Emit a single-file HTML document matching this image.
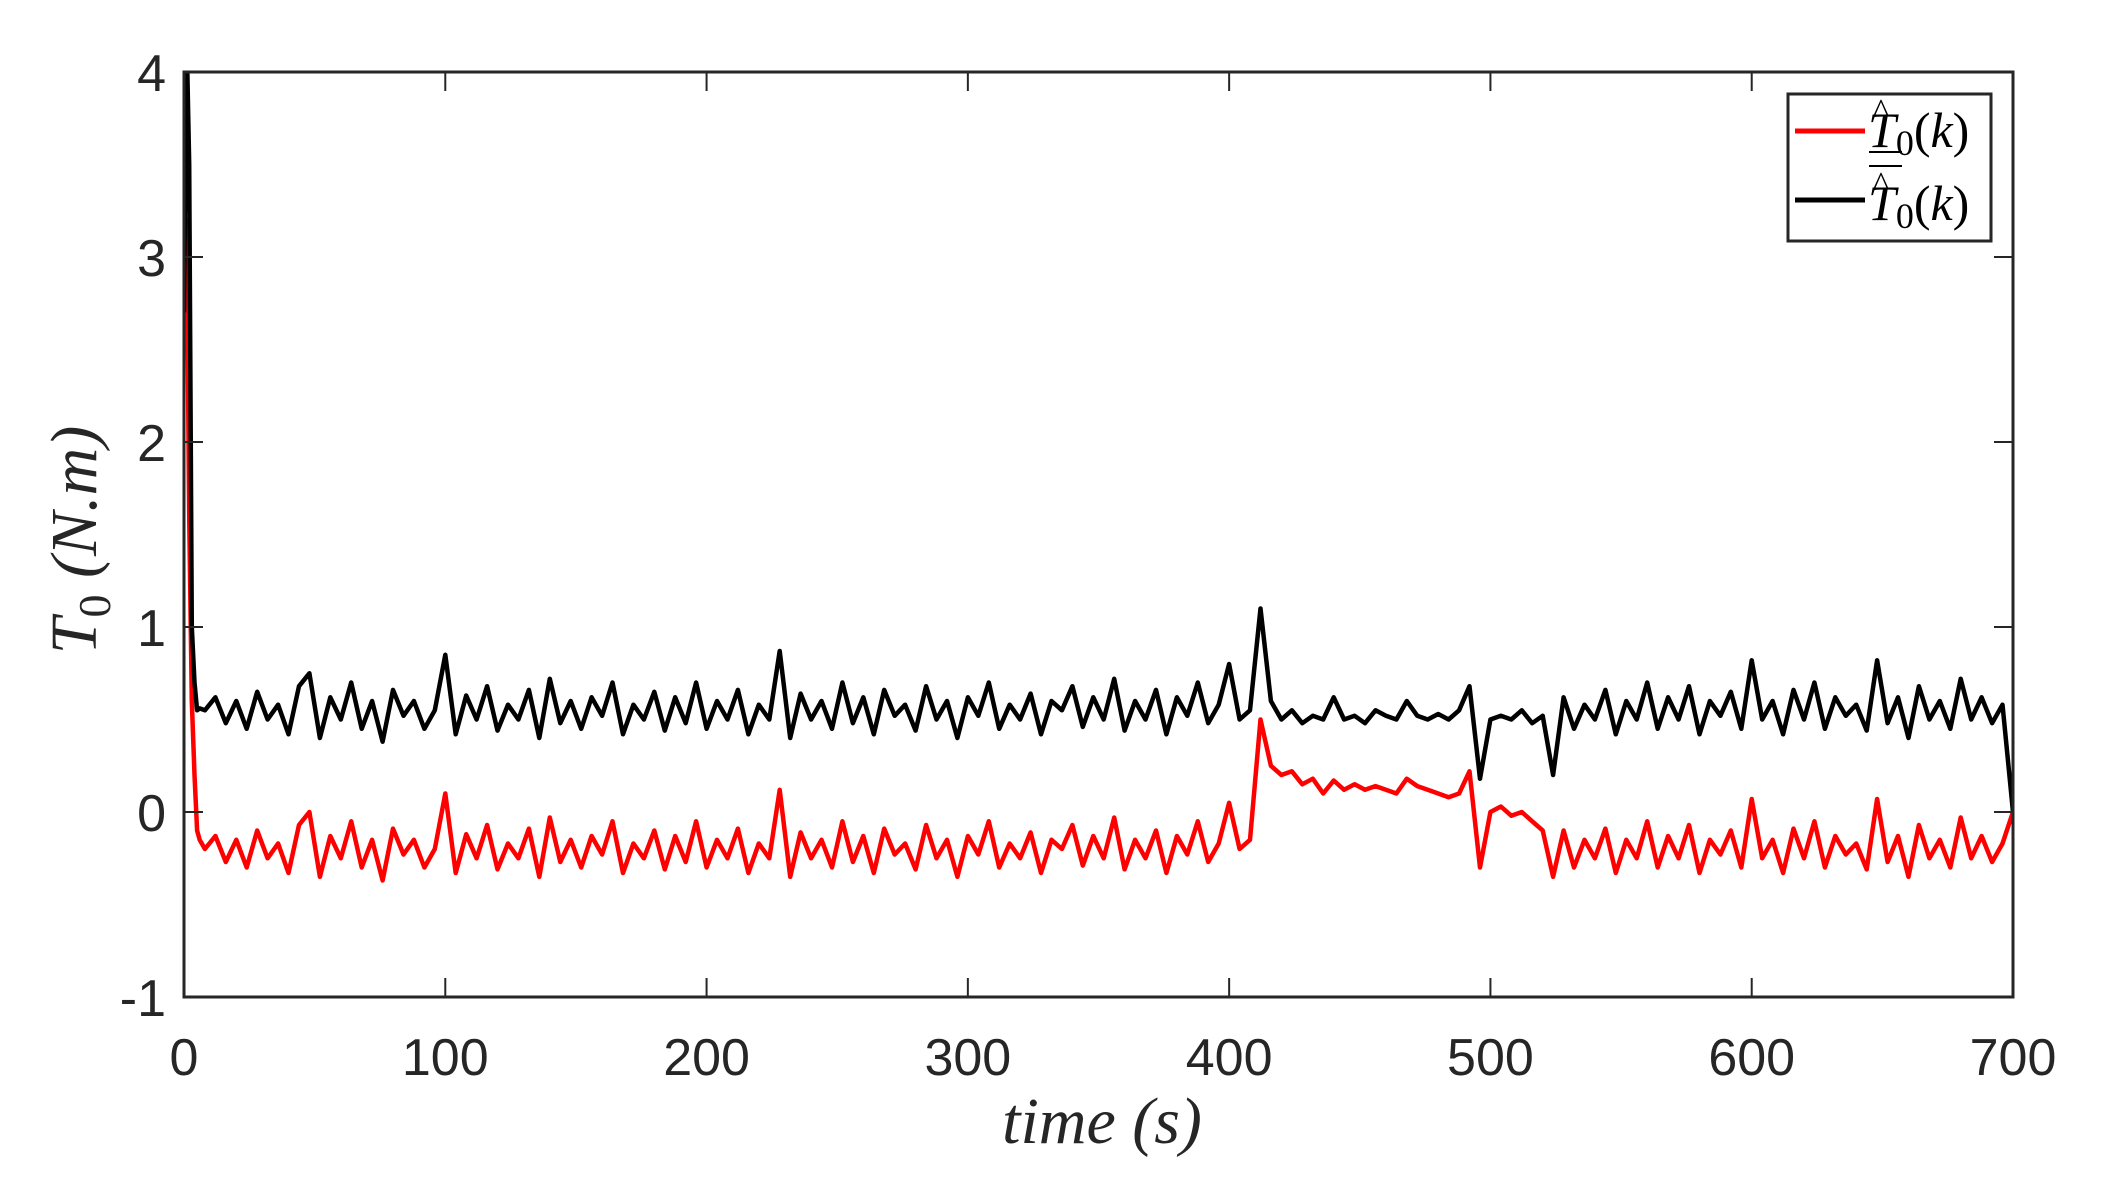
<!DOCTYPE html>
<html><head><meta charset="utf-8"><style>
html,body{margin:0;padding:0;background:#fff;}
svg{display:block;}
</style></head><body>
<svg id="chart" width="2102" height="1178" xmlns="http://www.w3.org/2000/svg">
<defs><clipPath id="plotclip"><rect x="184" y="72" width="1829" height="925"/></clipPath></defs>
<rect x="0" y="0" width="2102" height="1178" fill="#fff"/>
<g id="series" clip-path="url(#plotclip)"></g>
<g id="axes"></g>
<text x="1102" y="1143" text-anchor="middle" font-family="Liberation Serif, serif" font-style="italic" font-size="66" fill="#262626">time (s)</text>
<text transform="translate(96,540) rotate(-90)" text-anchor="middle" font-family="Liberation Serif, serif" font-style="italic" font-size="66" fill="#262626">T<tspan font-style="normal" font-size="46" dy="14">0</tspan><tspan dy="-14"> (N.m)</tspan></text>
<g>
<rect x="1788" y="94" width="203" height="147" fill="#fff" stroke="#262626" stroke-width="3"/>
<line x1="1795" y1="131" x2="1865" y2="131" stroke="#ff0000" stroke-width="5"/>
<text x="1868" y="147" font-family="Liberation Serif, serif" font-style="italic" font-size="50" fill="#000">T<tspan font-style="normal" font-size="36" dy="8">0</tspan><tspan font-style="normal" dy="-8">(</tspan>k<tspan font-style="normal">)</tspan></text>
<text x="1873" y="122" font-family="Liberation Serif, serif" font-size="34" fill="#000">^</text>
<line x1="1869" y1="152" x2="1902" y2="152" stroke="#000" stroke-width="2"/>
<line x1="1795" y1="200" x2="1865" y2="200" stroke="#000" stroke-width="5"/>
<text x="1868" y="220" font-family="Liberation Serif, serif" font-style="italic" font-size="50" fill="#000">T<tspan font-style="normal" font-size="36" dy="8">0</tspan><tspan font-style="normal" dy="-8">(</tspan>k<tspan font-style="normal">)</tspan></text>
<text x="1873" y="195" font-family="Liberation Serif, serif" font-size="34" fill="#000">^</text>
<line x1="1869" y1="166" x2="1902" y2="166" stroke="#000" stroke-width="2"/>
</g>
</svg>
<script>
const headTimes=[0,1,2,3,4,5,6];
const headBlack=[2.7,4.2,3.5,1.0,0.7,0.55,0.56];
const headRed=[2.7,3.2,1.6,0.6,0.2,-0.1,-0.15];
const stepStart=8, stepSize=4;
const blackVals=[0.55,0.62,0.48,0.6,0.45,0.65,0.5,0.58,0.42,0.68,
0.75,0.4,0.62,0.5,0.7,0.45,0.6,0.38,0.66,0.52,
0.6,0.45,0.55,0.85,0.42,0.63,0.5,0.68,0.44,0.58,
0.5,0.66,0.4,0.72,0.48,0.6,0.45,0.62,0.52,0.7,
0.42,0.58,0.5,0.65,0.44,0.62,0.48,0.7,0.45,0.6,
0.5,0.66,0.42,0.58,0.5,0.87,0.4,0.64,0.5,0.6,
0.45,0.7,0.48,0.62,0.42,0.66,0.52,0.58,0.44,0.68,
0.5,0.6,0.4,0.62,0.52,0.7,0.45,0.58,0.5,0.64,
0.42,0.6,0.55,0.68,0.46,0.62,0.5,0.72,0.44,0.6,
0.5,0.66,0.42,0.62,0.52,0.7,0.48,0.58,0.8,0.5,
0.55,1.1,0.6,0.5,0.55,0.48,0.52,0.5,0.62,0.5,
0.52,0.48,0.55,0.52,0.5,0.6,0.52,0.5,0.53,0.5,
0.55,0.68,0.18,0.5,0.52,0.5,0.55,0.48,0.52,0.2,
0.62,0.45,0.58,0.5,0.66,0.42,0.6,0.5,0.7,0.45,
0.62,0.5,0.68,0.42,0.6,0.52,0.65,0.45,0.82,0.5,
0.6,0.42,0.66,0.5,0.7,0.45,0.62,0.52,0.58,0.44,
0.82,0.48,0.62,0.4,0.68,0.5,0.6,0.45,0.72,0.5,
0.62,0.48,0.58];
const redVals=[-0.2,-0.13,-0.27,-0.15,-0.3,-0.1,-0.25,-0.17,-0.33,-0.07,
0.0,-0.35,-0.13,-0.25,-0.05,-0.3,-0.15,-0.37,-0.09,-0.23,
-0.15,-0.3,-0.2,0.1,-0.33,-0.12,-0.25,-0.07,-0.31,-0.17,
-0.25,-0.09,-0.35,-0.03,-0.27,-0.15,-0.3,-0.13,-0.23,-0.05,
-0.33,-0.17,-0.25,-0.1,-0.31,-0.13,-0.27,-0.05,-0.3,-0.15,
-0.25,-0.09,-0.33,-0.17,-0.25,0.12,-0.35,-0.11,-0.25,-0.15,
-0.3,-0.05,-0.27,-0.13,-0.33,-0.09,-0.23,-0.17,-0.31,-0.07,
-0.25,-0.15,-0.35,-0.13,-0.23,-0.05,-0.3,-0.17,-0.25,-0.11,
-0.33,-0.15,-0.2,-0.07,-0.29,-0.13,-0.25,-0.03,-0.31,-0.15,
-0.25,-0.1,-0.33,-0.13,-0.23,-0.05,-0.27,-0.17,0.05,-0.2,
-0.15,0.5,0.25,0.2,0.22,0.15,0.18,0.1,0.17,0.12,
0.15,0.12,0.14,0.12,0.1,0.18,0.14,0.12,0.1,0.08,
0.1,0.22,-0.3,0.0,0.03,-0.02,0.0,-0.05,-0.1,-0.35,
-0.1,-0.3,-0.15,-0.25,-0.09,-0.33,-0.15,-0.25,-0.05,-0.3,
-0.13,-0.25,-0.07,-0.33,-0.15,-0.23,-0.1,-0.3,0.07,-0.25,
-0.15,-0.33,-0.09,-0.25,-0.05,-0.3,-0.13,-0.23,-0.17,-0.31,
0.07,-0.27,-0.13,-0.35,-0.07,-0.25,-0.15,-0.3,-0.03,-0.25,
-0.13,-0.27,-0.17];
const tailTime=700, tailBlack=0.0, tailRed=0.0;
const xTicks=[0,100,200,300,400,500,600,700];
const yTicks=[-1,0,1,2,3,4];

const X0=184,X1=2013,Y0=72,Y1=997;
const sx=v=>X0+(v-0)/(700-0)*(X1-X0);
const sy=v=>Y1-(v-(-1))/(4-(-1))*(Y1-Y0);
const NS='http://www.w3.org/2000/svg';
function mk(tag,attrs,parent){const e=document.createElementNS(NS,tag);for(const k in attrs)e.setAttribute(k,attrs[k]);parent.appendChild(e);return e;}

function buildPath(head,vals,tail){
  const pts=[];
  headTimes.forEach((t,i)=>pts.push([sx(t),sy(head[i])]));
  vals.forEach((v,i)=>pts.push([sx(stepStart+i*stepSize),sy(v)]));
  pts.push([sx(tailTime),sy(tail)]);
  return 'M'+pts.map(p=>p[0].toFixed(1)+','+p[1].toFixed(1)).join('L');
}
const series=document.getElementById('series');
const pr=mk('path',{d:buildPath(headRed,redVals,tailRed),fill:'none',stroke:'#ff0000','stroke-width':4.5,'stroke-linejoin':'round'},series);


const pb=mk('path',{d:buildPath(headBlack,blackVals,tailBlack),fill:'none',stroke:'#000','stroke-width':4.5,'stroke-linejoin':'round'},series);



const axes=document.getElementById('axes');
const box=mk('rect',{x:X0,y:Y0,width:X1-X0,height:Y1-Y0,fill:'none',stroke:'#262626','stroke-width':3},axes);


xTicks.forEach(t=>{
  const x=sx(t);
  mk('line',{x1:x,y1:Y1,x2:x,y2:Y1-19,stroke:'#262626','stroke-width':2},axes);
  mk('line',{x1:x,y1:Y0,x2:x,y2:Y0+19,stroke:'#262626','stroke-width':2},axes);
  const tx=mk('text',{x:x,y:1075,'text-anchor':'middle','font-family':'Liberation Sans, sans-serif','font-size':52,fill:'#262626'},axes);
  tx.textContent=t;
  
  
});
yTicks.forEach(t=>{
  const y=sy(t);
  mk('line',{x1:X0,y1:y,x2:X0+19,y2:y,stroke:'#262626','stroke-width':2},axes);
  mk('line',{x1:X1,y1:y,x2:X1-19,y2:y,stroke:'#262626','stroke-width':2},axes);
  const ty=mk('text',{x:166,y:y+19,'text-anchor':'end','font-family':'Liberation Sans, sans-serif','font-size':52,fill:'#262626'},axes);
  ty.textContent=t;
  
  
});
</script>
</body></html>
